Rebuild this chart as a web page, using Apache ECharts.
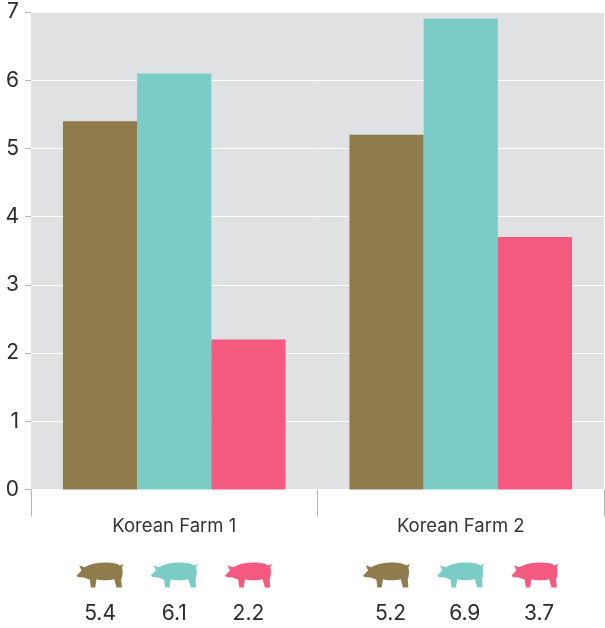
<!DOCTYPE html>
<html>
<head>
<meta charset="utf-8">
<script src="https://cdn.jsdelivr.net/npm/echarts@6/dist/echarts.min.js"></script>
<style>
html, body { margin: 0; padding: 0; background: #fff; }
#chart { width: 605px; height: 628px; }
</style>
</head>
<body>
<div id="chart"></div>
<script>
const farms = ['Korean Farm 1', 'Korean Farm 2'];
const brownValues = [5.4, 5.2];
const tealValues = [6.1, 6.9];
const pinkValues = [2.2, 3.7];
const seriesColors = ['#8f7b4c', '#7bcbc7', '#f4597f'];

const FONT = 'Inter, "Liberation Sans", sans-serif';
const CATEGORY_GAP = 0.223;
const VALUE_TEXT_SHIFT = [0, 4];

// Pig silhouette, facing left, in a 142x75 design box
const PIG_PATH = 'M0,40 L6,33 L15,24 L8,8 L24,14 C42,4 66,0 86,0 C106,0 124,4 130,9 L141,4 L136,14 ' +
  'C140,28 138,40 134,50 L136,75 L120,75 L113,50 C96,54 72,54 60,50 L56,75 L43,75 L40,52 ' +
  'C28,44 16,44 6,44 Z';

const valueSets = [brownValues, tealValues, pinkValues];
const pigRows = [];
valueSets.forEach((values, k) => values.forEach((v, g) => pigRows.push([g, k, v])));

function barSeries(values, color) {
  return {
    type: 'bar',
    data: values,
    barGap: 0,
    barCategoryGap: (CATEGORY_GAP * 100) + '%',
    itemStyle: { color },
    silent: true
  };
}

// Draws a pig and its value under each bar, lined up with the bar's centre
function renderPig(params, api) {
  const g = api.value(0);
  const k = api.value(1);
  const value = api.value(2);
  const base = api.coord([g, 0]);
  const band = api.size([1, 0])[0];
  const barWidth = band * (1 - CATEGORY_GAP) / 3;
  const cx = base[0] + (k - 1) * barWidth;
  return {
    type: 'group',
    children: [
      {
        type: 'path',
        shape: { pathData: PIG_PATH, x: cx - 23.5, y: base[1] + 72.5, width: 47, height: 26 },
        style: { fill: seriesColors[k] }
      },
      {
        type: 'text',
        style: {
          text: value.toFixed(1),
          x: cx + VALUE_TEXT_SHIFT[g],
          y: base[1] + 124,
          textAlign: 'center',
          textVerticalAlign: 'middle',
          font: '21px ' + FONT,
          fill: '#2b2b2b'
        }
      }
    ]
  };
}

const chart = echarts.init(document.getElementById('chart'), null, { renderer: 'canvas' });
chart.setOption({
  animation: false,
  backgroundColor: '#ffffff',
  grid: {
    show: true,
    left: 31,
    right: 1,
    top: 12,
    bottom: 138.5,
    backgroundColor: '#e0e1e3',
    borderWidth: 0
  },
  xAxis: {
    type: 'category',
    data: farms,
    axisLine: { show: false },
    axisTick: { show: true, length: 27, lineStyle: { color: '#b5b5b5', width: 1 } },
    axisLabel: { margin: 27, fontSize: 18.5, fontFamily: FONT, color: '#333333' }
  },
  yAxis: {
    type: 'value',
    min: 0,
    max: 7,
    interval: 1,
    axisLine: { show: false },
    axisTick: { show: true, length: 6, lineStyle: { color: '#b5b5b5', width: 1 } },
    axisLabel: { margin: 12, fontSize: 21, fontFamily: FONT, color: '#2b2b2b' },
    splitLine: { show: true, lineStyle: { color: '#ffffff', width: 1 } }
  },
  series: [
    barSeries(brownValues, seriesColors[0]),
    barSeries(tealValues, seriesColors[1]),
    barSeries(pinkValues, seriesColors[2]),
    {
      type: 'custom',
      data: pigRows,
      renderItem: renderPig,
      clip: false,
      silent: true,
      encode: { x: 0, y: 2 }
    }
  ]
});
</script>
</body>
</html>
